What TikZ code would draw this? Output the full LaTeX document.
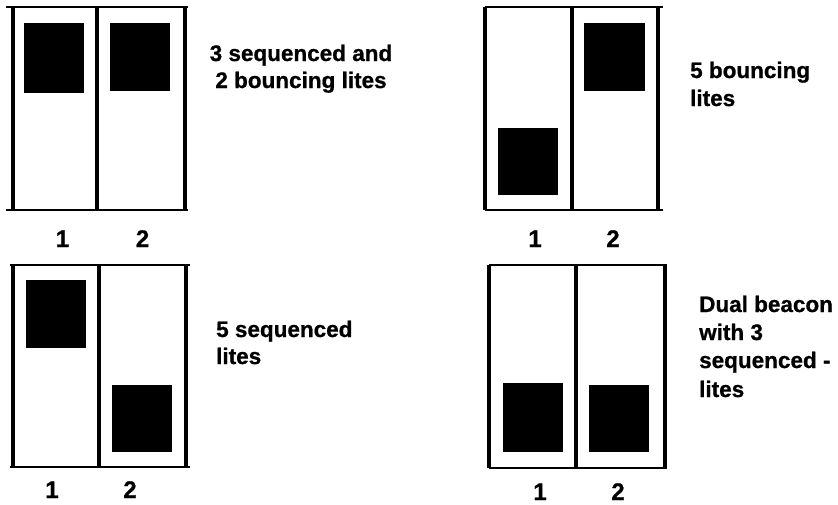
\documentclass[tikz,border=0pt]{standalone}
\usepackage{fontspec}
\setmainfont{Liberation Sans}[BoldFeatures={FakeBold=0.8}]
\begin{document}
\begin{tikzpicture}[x=1pt,y=-1pt,
  hline/.style={line width=2.8pt},
  vline/.style={line width=3.4pt},
  lamp/.style={fill=black},
  lbl/.style={font=\bfseries\fontsize{22.5}{28}\selectfont, inner sep=0pt},
  num/.style={font=\bfseries\fontsize{24}{28}\selectfont, inner sep=0pt, anchor=base}]
\useasboundingbox[fill=white] (0,0) rectangle (838,504);
% panel 1
\draw[hline] (6,7) -- (188,7) (6,210) -- (188,210);
\draw[vline] (13,7) -- (13,210) (97,7) -- (97,210) (185,7) -- (185,210);
\fill[lamp] (24,23) rectangle (84,93);
\fill[lamp] (110,23) rectangle (170,91);
\node[num] (p1a) at (62.5,247) {1};
\node[num] (p1b) at (142.5,247) {2};
\node[lbl, anchor=base] (t1a) at (301,61) {3 sequenced and};
\node[lbl, anchor=base] (t1b) at (301,88) {2 bouncing lites};
% panel 2
\draw[hline] (485,7) -- (663,7) (485,210) -- (663,210);
\draw[vline] (485,7) -- (485,210) (572,7) -- (572,210) (658,7) -- (658,210);
\fill[lamp] (498,128) rectangle (558,195);
\fill[lamp] (584,23) rectangle (645,91);
\node[num] (p2a) at (535,247) {1};
\node[num] (p2b) at (613,247) {2};
\node[lbl, anchor=base west] (t2a) at (690,78) {5 bouncing};
\node[lbl, anchor=base west] (t2b) at (690,106) {lites};
% panel 3
\draw[hline] (10,265) -- (190,265) (10,467) -- (190,467);
\draw[vline] (13,265) -- (13,467) (99,265) -- (99,467) (186,265) -- (186,467);
\fill[lamp] (26,280) rectangle (86,348);
\fill[lamp] (112,385) rectangle (172,452);
\node[num] (p3a) at (52,498) {1};
\node[num] (p3b) at (130,498) {2};
\node[lbl, anchor=base west] (t3a) at (216,337) {5 sequenced};
\node[lbl, anchor=base west] (t3b) at (216,364) {lites};
% panel 4
\draw[hline] (489,265) -- (667,265) (489,468) -- (667,468);
\draw[vline] (489,265) -- (489,468) (576,265) -- (576,468) (665,265) -- (665,468);
\fill[lamp] (503,383) rectangle (563,452);
\fill[lamp] (589,385) rectangle (649,452);
\node[num] (p4a) at (540,500) {1};
\node[num] (p4b) at (618,500) {2};
\node[lbl, anchor=base west] (t4a) at (699,312) {Dual beacon};
\node[lbl, anchor=base west] (t4b) at (699,340) {with 3};
\node[lbl, anchor=base west] (t4c) at (699,368) {sequenced -};
\node[lbl, anchor=base west] (t4d) at (699,397) {lites};
\end{tikzpicture}
\end{document}
